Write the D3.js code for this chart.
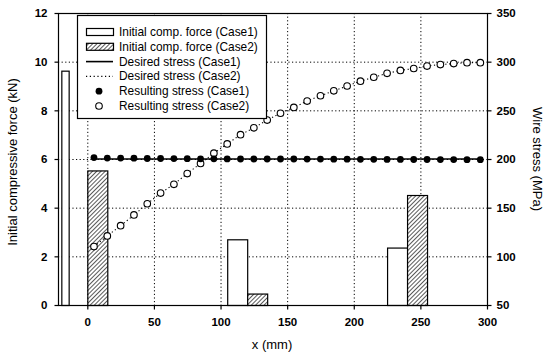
<!DOCTYPE html>
<html>
<head>
<meta charset="utf-8">
<script src="https://cdn.jsdelivr.net/npm/d3@7"></script>
<style>
  body { margin: 0; background: #fff; }
  svg { display: block; font-family: Arial, "Liberation Sans", sans-serif; }
</style>
</head>
<body>
<div id="chart"></div>
<script>
// bars: initial compressive force (kN), drawn over [start, end] in mm
const case1BarStart = [-19.5, 105, 225];
const case1BarEnd = [-14, 120, 240];
const case1Force = [9.63, 2.70, 2.36];
const case2BarStart = [0, 120, 240];
const case2BarEnd = [15, 135, 255];
const case2Force = [5.53, 0.47, 4.52];

// stress points (MPa) along the wire
const xPos = [5, 15, 25, 35, 45, 55, 65, 75, 85, 95, 105, 115, 125, 135, 145,
  155, 165, 175, 185, 195, 205, 215, 225, 235, 245, 255, 265, 275, 285, 295];
const desired1 = [200, 200, 200, 200, 200, 200, 200, 200, 200, 200, 200, 200, 200, 200, 200,
  200, 200, 200, 200, 200, 200, 200, 200, 200, 200, 200, 200, 200, 200, 200];
const desired2 = [110, 121, 131.5, 142.5, 154, 165, 174, 185, 195.5, 206, 215.5, 225, 232, 240, 247,
  253, 259.5, 265, 270, 275, 280, 284, 288, 291, 293, 295.5, 297, 298, 299, 299];
const result1 = [201.5, 201, 201, 200.8, 200.5, 200.5, 200.4, 200.3, 200.2, 200.2, 200.1, 200, 200, 200, 200,
  200, 199.9, 199.9, 199.8, 199.8, 199.7, 199.7, 199.6, 199.6, 199.5, 199.5, 199.4, 199.4, 199.3, 199.3];
const result2 = [110, 121, 131.5, 142.5, 154, 165, 174, 185, 195.5, 206, 215.5, 225, 232, 240, 247,
  253, 259.5, 265, 270, 275, 280, 284, 288, 291, 293, 295.5, 297, 298, 299, 299];

const xTicks = [0, 50, 100, 150, 200, 250, 300];
const forceTicks = [0, 2, 4, 6, 8, 10, 12];
const stressTicks = [50, 100, 150, 200, 250, 300, 350];
const legendLabels = ["Initial comp. force (Case1)", "Initial comp. force (Case2)",
  "Desired stress (Case1)", "Desired stress (Case2)",
  "Resulting stress (Case1)", "Resulting stress (Case2)"];

const width = 550, height = 356;
const pLeft = 58, pRight = 487, pTop = 13, pBottom = 305;

const x = d3.scaleLinear().domain([-22, 300]).range([pLeft, pRight]);
const yF = d3.scaleLinear().domain([0, 12]).range([pBottom, pTop]);
const yS = d3.scaleLinear().domain([50, 350]).range([pBottom, pTop]);

const svg = d3.select('#chart').append('svg')
  .attr('width', width)
  .attr('height', height);

const defs = svg.append('defs');
const pat = defs.append('pattern')
  .attr('id', 'hatch')
  .attr('patternUnits', 'userSpaceOnUse')
  .attr('width', 3).attr('height', 3)
  .attr('patternTransform', 'rotate(45)');
pat.append('rect').attr('width', 3).attr('height', 3).attr('fill', '#fff');
pat.append('line').attr('x1', 0).attr('y1', 0).attr('x2', 0).attr('y2', 3)
  .attr('stroke', '#000').attr('stroke-width', 1.3);

// grid
const grid = svg.append('g').attr('stroke', '#000').attr('stroke-width', 1)
  .attr('stroke-dasharray', '1.2,2.4');
grid.selectAll('.gx').data(xTicks.slice(0, -1)).join('line')
  .attr('x1', d => x(d) + 0.5).attr('x2', d => x(d) + 0.5)
  .attr('y1', pTop).attr('y2', pBottom);
grid.selectAll('.gy').data(forceTicks.slice(1, -1)).join('line')
  .attr('x1', pLeft).attr('x2', pRight)
  .attr('y1', d => yF(d) + 0.5).attr('y2', d => yF(d) + 0.5);

// bars
const bars1 = case1Force.map((v, i) => ({ x0: case1BarStart[i], x1: case1BarEnd[i], v }));
const bars2 = case2Force.map((v, i) => ({ x0: case2BarStart[i], x1: case2BarEnd[i], v }));
svg.append('g').selectAll('rect').data(bars1).join('rect')
  .attr('x', d => x(d.x0) + 0.5).attr('width', d => x(d.x1) - x(d.x0))
  .attr('y', d => yF(d.v) + 0.5).attr('height', d => yF(0) - yF(d.v))
  .attr('fill', '#fff').attr('stroke', '#000').attr('stroke-width', 1.2);
svg.append('g').selectAll('rect').data(bars2).join('rect')
  .attr('x', d => x(d.x0) + 0.5).attr('width', d => x(d.x1) - x(d.x0))
  .attr('y', d => yF(d.v) + 0.5).attr('height', d => yF(0) - yF(d.v))
  .attr('fill', 'url(#hatch)').attr('stroke', '#000').attr('stroke-width', 1.2);

// lines
const line = d3.line().x(d => x(d[0])).y(d => yS(d[1]));
svg.append('path')
  .attr('d', line(xPos.map((d, i) => [d, desired1[i]])))
  .attr('fill', 'none').attr('stroke', '#000').attr('stroke-width', 1.6);
svg.append('path')
  .attr('d', line(xPos.map((d, i) => [d, desired2[i]])))
  .attr('fill', 'none').attr('stroke', '#000').attr('stroke-width', 1.1)
  .attr('stroke-dasharray', '1.2,2.6');

// points
svg.append('g').selectAll('circle').data(xPos.map((d, i) => [d, result2[i]])).join('circle')
  .attr('cx', d => x(d[0])).attr('cy', d => yS(d[1])).attr('r', 3.3)
  .attr('fill', '#fff').attr('stroke', '#000').attr('stroke-width', 1.1);
svg.append('g').selectAll('circle').data(xPos.map((d, i) => [d, result1[i]])).join('circle')
  .attr('cx', d => x(d[0])).attr('cy', d => yS(d[1])).attr('r', 3.4)
  .attr('fill', '#000');

// frame
svg.append('rect')
  .attr('x', pLeft + 0.5).attr('y', pTop + 0.5)
  .attr('width', pRight - pLeft).attr('height', pBottom - pTop)
  .attr('fill', 'none').attr('stroke', '#000').attr('stroke-width', 1.2);

// axes
const fmt = d3.format('d');
const axB = svg.append('g').attr('transform', `translate(0,${pBottom + 0.5})`)
  .call(d3.axisBottom(x).tickValues(xTicks).tickSize(4).tickPadding(8).tickFormat(fmt));
const axL = svg.append('g').attr('transform', `translate(${pLeft + 0.5},0)`)
  .call(d3.axisLeft(yF).tickValues(forceTicks).tickSize(4).tickPadding(7).tickFormat(fmt));
const axR = svg.append('g').attr('transform', `translate(${pRight + 0.5},0)`)
  .call(d3.axisRight(yS).tickValues(stressTicks).tickSize(4).tickPadding(5).tickFormat(fmt));
[axB, axL, axR].forEach(a => {
  a.select('.domain').remove();
  a.selectAll('text').attr('font-size', 11.5).attr('font-weight', 'bold')
    .attr('fill', '#000').attr('font-family', 'Arial, "Liberation Sans", sans-serif');
  a.selectAll('line').attr('stroke-width', 1.2);
});

svg.append('text').attr('x', 272).attr('y', 349).attr('text-anchor', 'middle')
  .attr('font-size', 13).text('x (mm)');
svg.append('text').attr('transform', `translate(17,${(pTop + pBottom) / 2 + 3}) rotate(-90)`)
  .attr('text-anchor', 'middle').attr('font-size', 13).text('Initial compressive force (kN)');
svg.append('text').attr('transform', `translate(533,${(pTop + pBottom) / 2}) rotate(90)`)
  .attr('text-anchor', 'middle').attr('font-size', 13).text('Wire stress (MPa)');

// legend
const lg = svg.append('g');
lg.append('rect').attr('x', 77.5).attr('y', 15.5).attr('width', 189).attr('height', 103)
  .attr('fill', '#fff').attr('stroke', '#000').attr('stroke-width', 1.2);
const rowY = i => 32 + i * 14.8;
const sx0 = 86, sx1 = 113;
lg.append('rect').attr('x', sx0 + 0.5).attr('y', rowY(0) - 3.5).attr('width', sx1 - sx0).attr('height', 7)
  .attr('fill', '#fff').attr('stroke', '#000').attr('stroke-width', 1.2);
lg.append('rect').attr('x', sx0 + 0.5).attr('y', rowY(1) - 3.5).attr('width', sx1 - sx0).attr('height', 7)
  .attr('fill', 'url(#hatch)').attr('stroke', '#000').attr('stroke-width', 1.2);
lg.append('line').attr('x1', sx0).attr('x2', sx1).attr('y1', rowY(2)).attr('y2', rowY(2))
  .attr('stroke', '#000').attr('stroke-width', 1.6);
lg.append('line').attr('x1', sx0).attr('x2', sx1).attr('y1', rowY(3)).attr('y2', rowY(3))
  .attr('stroke', '#000').attr('stroke-width', 1.1).attr('stroke-dasharray', '1.2,2.6');
lg.append('circle').attr('cx', 99).attr('cy', rowY(4)).attr('r', 3.4).attr('fill', '#000');
lg.append('circle').attr('cx', 99).attr('cy', rowY(5)).attr('r', 3.3)
  .attr('fill', '#fff').attr('stroke', '#000').attr('stroke-width', 1.1);
lg.selectAll('text').data(legendLabels).join('text')
  .attr('x', 119).attr('y', (d, i) => rowY(i) + 4)
  .attr('font-size', 11.9).text(d => d);
</script>
</body>
</html>
